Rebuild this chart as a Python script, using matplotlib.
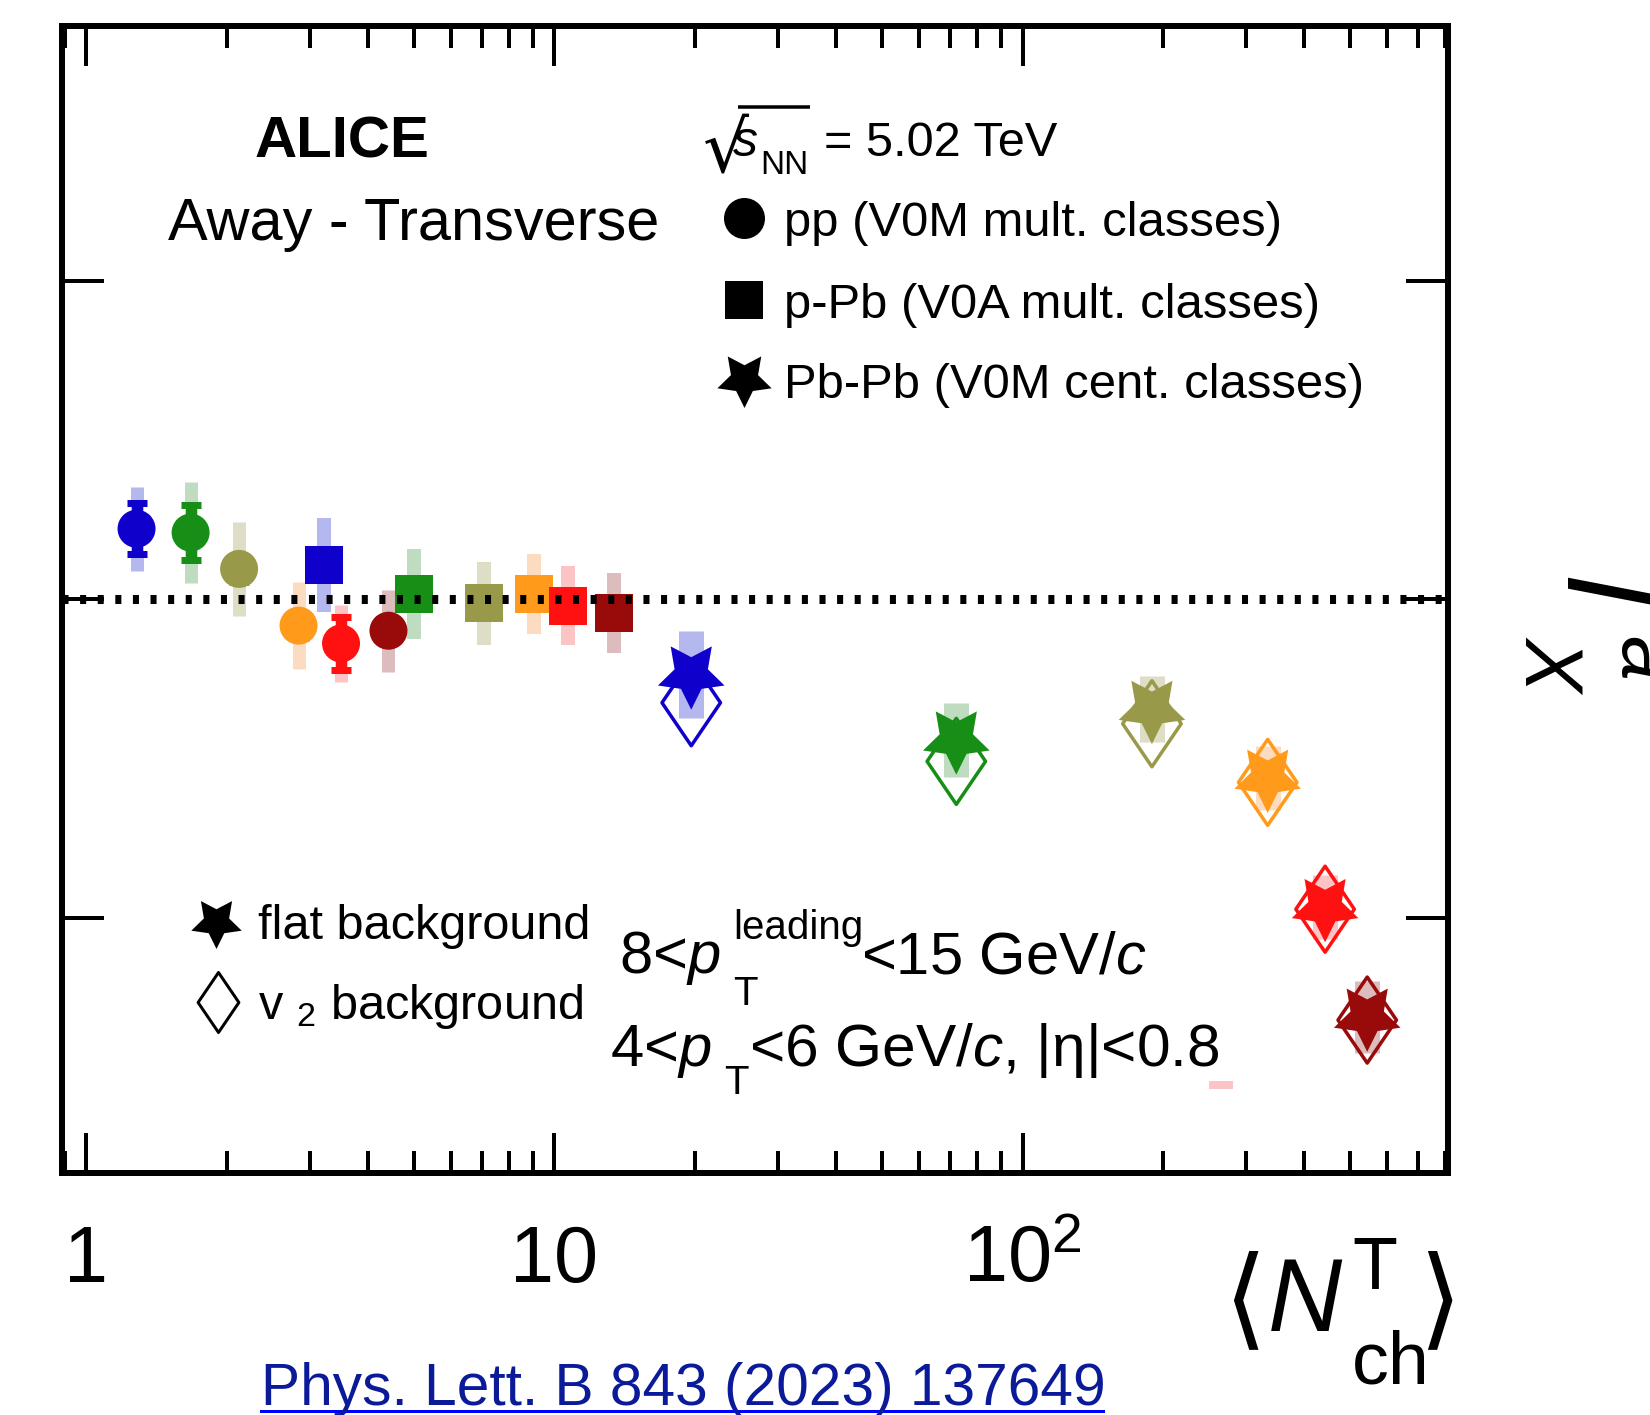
import numpy as np
import matplotlib
matplotlib.use('Agg')
import matplotlib.pyplot as plt
from matplotlib.path import Path
from matplotlib.lines import Line2D
from matplotlib.ticker import LogLocator, NullFormatter, FixedLocator

plt.rcParams['font.family'] = ['Liberation Sans', 'DejaVu Sans']
plt.rcParams['mathtext.fontset'] = 'custom'
plt.rcParams['mathtext.rm'] = 'Liberation Sans'
plt.rcParams['mathtext.it'] = 'Liberation Sans:italic'
plt.rcParams['mathtext.bf'] = 'Liberation Sans:bold'
plt.rcParams['mathtext.sf'] = 'Liberation Sans'

# ---------------- data ----------------
class_colors = ['#1000cc', '#178f17', '#99994a', '#ff9a1a', '#ff1111', '#990b0b']
class_light = ['#b4b8ee', '#c0dcc0', '#deddc6', '#fcdcc0', '#fcc4c4', '#dcbcbc']

pp_nch = [1.28, 1.67, 2.12, 2.84, 3.50, 4.42]
pp_iaa = [1.111, 1.105, 1.048, 0.959, 0.931, 0.951]
pp_stat = [0.040, 0.043, 0.020, 0.020, 0.042, 0.020]
pp_sys = [0.066, 0.079, 0.074, 0.068, 0.060, 0.064]

ppb_nch = [3.22, 5.01, 7.07, 9.03, 10.68, 13.4]
ppb_iaa = [1.054, 1.009, 0.994, 1.009, 0.990, 0.979]
ppb_stat = [0.015, 0.015, 0.015, 0.015, 0.015, 0.015]
ppb_sys = [0.074, 0.071, 0.065, 0.063, 0.062, 0.063]

pbpb_nch = [19.6, 72.2, 189.0, 334.0, 443.0, 545.0]
pbpb_flat = [0.882, 0.780, 0.828, 0.720, 0.517, 0.345]
pbpb_flat_sys = [0.068, 0.058, 0.052, 0.050, 0.050, 0.057]
pbpb_v2 = [0.838, 0.746, 0.805, 0.713, 0.514, 0.340]

stray_box_x = [266.0]
stray_box_lo = [0.232]
stray_box_hi = [0.245]

xtick_vals = [1, 10, 100]
xtick_labels = ['1', '10', r'$10^{2}$']
ytick_vals = [0.5, 1.0, 1.5]

# ---------------- figure ----------------
W, H = 1650, 1415
fig = plt.figure(figsize=(W / 100, H / 100), dpi=100)
PT = 72 / 100.0


def fx(px):
    return px / W


def fy(py):
    return 1 - py / H


ax = fig.add_axes([fx(62), fy(1173), (1448 - 62) / W, (1173 - 26) / H])
ax.set_xscale('log')
ax.set_xlim(0.8871, 810.9)
ax.set_ylim(0.1, 1.9)

for sp in ax.spines.values():
    sp.set_linewidth(6 * PT)

ax.xaxis.set_major_locator(FixedLocator(xtick_vals))
ax.xaxis.set_minor_locator(LogLocator(base=10, subs=np.arange(2, 10)))
ax.xaxis.set_minor_formatter(NullFormatter())
ax.set_xticklabels(xtick_labels)
ax.set_yticks(ytick_vals)
ax.yaxis.set_minor_locator(FixedLocator([]))
ax.tick_params(axis='x', which='major', direction='in', top=True, bottom=True,
               length=40 * PT, width=4 * PT, labelsize=57, pad=(1282 - 1173) * PT)
ax.tick_params(axis='x', which='minor', direction='in', top=True, bottom=True,
               length=22 * PT, width=4 * PT)
ax.tick_params(axis='y', which='major', direction='in', left=True, right=True,
               length=42 * PT, width=4 * PT, labelleft=False)
for t in ax.xaxis.get_major_ticks():
    t.label1.set_verticalalignment('baseline')

# reference line
ax.axhline(1.0, color='k', lw=6.5, ls=(0, (0.67, 1.28)), dash_capstyle='butt', zorder=10)

# systematic boxes
ax.vlines(pp_nch, np.array(pp_iaa) - pp_sys, np.array(pp_iaa) + pp_sys,
          colors=class_light, linewidth=13 * PT, capstyle='butt', zorder=1)
ax.vlines(ppb_nch, np.array(ppb_iaa) - ppb_sys, np.array(ppb_iaa) + ppb_sys,
          colors=class_light, linewidth=14 * PT, capstyle='butt', zorder=1)
ax.vlines(pbpb_nch, np.array(pbpb_flat) - pbpb_flat_sys, np.array(pbpb_flat) + pbpb_flat_sys,
          colors=class_light, linewidth=25 * PT, capstyle='butt', zorder=1)
ax.vlines(stray_box_x, stray_box_lo, stray_box_hi, colors=[class_light[4]],
          linewidth=24 * PT, capstyle='butt', zorder=1)

# statistical errors
for xs, ys, es in [(pp_nch, pp_iaa, pp_stat), (ppb_nch, ppb_iaa, ppb_stat)]:
    for i in range(len(xs)):
        ax.errorbar(xs[i], ys[i], yerr=es[i], fmt='none', ecolor=class_colors[i],
                    elinewidth=11 * PT, capsize=10 * PT, capthick=7 * PT, zorder=2)

# markers
ax.scatter(pp_nch, pp_iaa, s=(38 * PT) ** 2, c=class_colors, marker='o', linewidths=0, zorder=3)
ax.scatter(ppb_nch, ppb_iaa, s=(38 * PT) ** 2, c=class_colors, marker='s', linewidths=0, zorder=3)

diamond = Path([(0, 1), (0.68, 0), (0, -1), (-0.68, 0), (0, 1)],
               [Path.MOVETO, Path.LINETO, Path.LINETO, Path.LINETO, Path.CLOSEPOLY])
star = (5, 1, 180)

ax.scatter(pbpb_nch, pbpb_v2, s=(86 * PT) ** 2, marker=diamond, facecolors='none',
           edgecolors=class_colors, linewidths=3.5 * PT, zorder=4)
ax.scatter(pbpb_nch, pbpb_flat, s=(70 * PT) ** 2, c=class_colors, marker=star,
           linewidths=0, zorder=5)

# ---------------- texts & legend ----------------
fig.text(fx(255), fy(158), 'ALICE', fontsize=42, fontweight='bold', ha='left', va='baseline')
fig.text(fx(168), fy(240), 'Away - Transverse', fontsize=42.8, ha='left', va='baseline')

# sqrt(s_NN) = 5.02 TeV  (ROOT-like tall radical)
fig.text(fx(703), fy(172), '√', fontsize=52, family='DejaVu Sans', ha='left', va='baseline')
fig.add_artist(Line2D([fx(738), fx(810)], [fy(107), fy(107)], color='k', lw=3.5 * PT,
                      solid_capstyle='butt'))
fig.text(fx(733), fy(156), 's', fontsize=36, style='italic', ha='left', va='baseline')
fig.text(fx(760), fy(174), 'NN', fontsize=24, ha='left', va='baseline')
fig.text(fx(824), fy(156), '= 5.02 TeV', fontsize=35, ha='left', va='baseline')

leg_labels = ['pp (V0M mult. classes)', 'p-Pb (V0A mult. classes)', 'Pb-Pb (V0M cent. classes)']
leg_markers = ['o', 's', star]
leg_ms = [41, 38, 57]
leg_y = [218, 300, 379]
leg_base = [236, 318, 398]
for lab, mk, ms, yy, yb in zip(leg_labels, leg_markers, leg_ms, leg_y, leg_base):
    fig.add_artist(Line2D([fx(744)], [fy(yy)], marker=mk, ms=ms * PT, color='k', mew=0, ls='none'))
    fig.text(fx(784), fy(yb), lab, fontsize=35.3, ha='left', va='baseline')

fig.add_artist(Line2D([fx(216)], [fy(922)], marker=star, ms=53 * PT, color='k', mew=0, ls='none'))
fig.text(fx(258), fy(939), 'flat background', fontsize=35, ha='left', va='baseline')
fig.add_artist(Line2D([fx(218)], [fy(1002)], marker=diamond, ms=60 * PT, mfc='none', mec='k',
                      mew=3 * PT, ls='none'))
fig.text(fx(258), fy(1019), r'v $_{\rm 2}$ background', fontsize=35, ha='left', va='baseline')

# kinematic ranges (ROOT-like script placement)
fig.text(fx(619), fy(973), r'8<$p$', fontsize=43, ha='left', va='baseline')
fig.text(fx(733), fy(939), 'leading', fontsize=29, ha='left', va='baseline')
fig.text(fx(733), fy(1005), 'T', fontsize=29, ha='left', va='baseline')
fig.text(fx(861), fy(973), r'<15 GeV/$c$', fontsize=43, ha='left', va='baseline')
fig.text(fx(610), fy(1066), r'4<$p$', fontsize=43, ha='left', va='baseline')
fig.text(fx(724), fy(1094), 'T', fontsize=29, ha='left', va='baseline')
fig.text(fx(749), fy(1066), r'<6 GeV/$c$, |η|<0.8', fontsize=43.5, ha='left', va='baseline')

# x-axis title
fig.text(fx(1245), fy(1304), '⟨', fontsize=80, family='DejaVu Sans', ha='center', va='center')
fig.text(fx(1268), fy(1331), 'N', fontsize=74, style='italic', ha='left', va='baseline')
fig.text(fx(1352), fy(1289), 'T', fontsize=53, ha='left', va='baseline')
fig.text(fx(1352), fy(1384), 'ch', fontsize=53, ha='left', va='baseline')
fig.text(fx(1440), fy(1304), '⟩', fontsize=80, family='DejaVu Sans', ha='center', va='center')

# neighbouring panel label (cut at the figure edge)
fig.text(fx(1562), fy(576), 'I', fontsize=85, style='italic', rotation=-90,
         rotation_mode='anchor', ha='left', va='baseline')
fig.text(fx(1527), fy(636), 'X', fontsize=58, style='italic', rotation=-90,
         rotation_mode='anchor', ha='left', va='baseline')
fig.text(fx(1620), fy(636), 'a', fontsize=58, style='italic', rotation=-90,
         rotation_mode='anchor', ha='left', va='baseline')

# reference link
fig.text(fx(261), fy(1405), 'Phys. Lett. B 843 (2023) 137649', fontsize=42.2, color='#0b1a99',
         ha='left', va='baseline')
fig.add_artist(Line2D([fx(261), fx(1103)], [fy(1411), fy(1411)], color='#0000ff', lw=3 * PT))

fig.savefig('out.png', dpi=100)
